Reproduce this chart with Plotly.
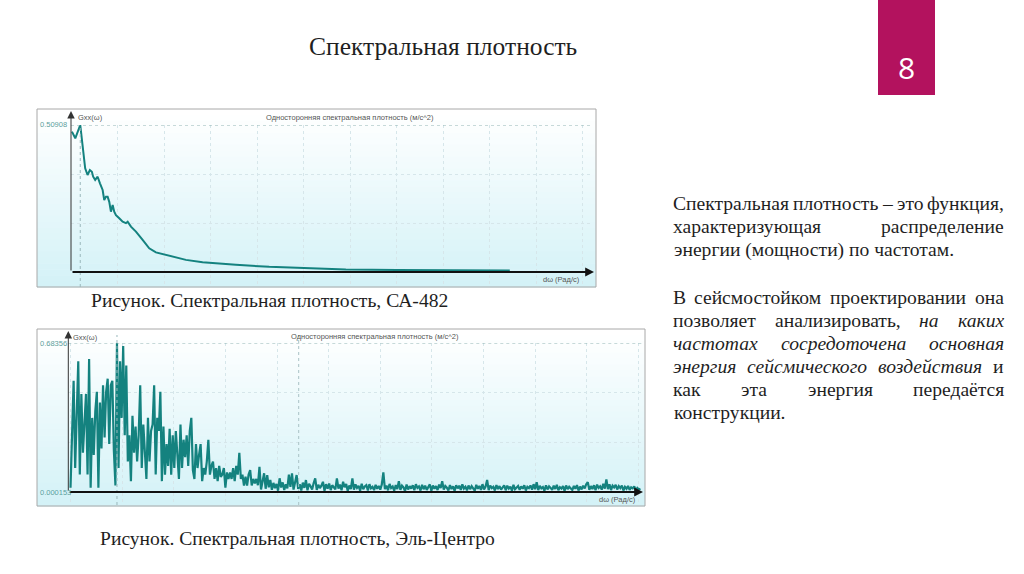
import json
import plotly.graph_objects as go

W, H = 1024, 574


def px(x):
    return x / W


def py(y):
    return 1 - y / H


# ---------------- data ----------------
# Top chart: one-sided spectral density, CA-482
top_omega = [0.1, 0.82, 1.89, 2.4, 2.95, 3.46, 3.96, 4.39, 4.67, 5.1, 5.63, 6.13, 6.71, 7.05,
             7.42, 7.78, 8.13, 8.49, 8.86, 9.2, 9.57, 10.28, 11.01, 11.72, 12.09, 12.8, 13.87,
             15.31, 16.73, 18.17, 21.03, 24.62, 28.21, 31.8, 35.37, 42.54, 49.72, 59.03, 70.0,
             80.0, 94.3]
top_gxx = [0.486, 0.463, 0.50908, 0.440, 0.359, 0.336, 0.353, 0.347, 0.330, 0.319, 0.330, 0.307,
           0.284, 0.249, 0.261, 0.261, 0.243, 0.209, 0.232, 0.209, 0.197, 0.186, 0.174, 0.169,
           0.174, 0.157, 0.140, 0.111, 0.082, 0.068, 0.056, 0.042, 0.034, 0.029, 0.025, 0.018,
           0.013, 0.009, 0.007, 0.006, 0.005]
top_max = 0.50908

# Bottom chart: one-sided spectral density, El Centro (uniform frequency step)
bot_step = 0.3
bot_gxx = [
    0.02, 0.30, 0.51, 0.11, 0.31, 0.60, 0.08, 0.45, 0.18, 0.30,
    0.45, 0.08, 0.61, 0.02, 0.34, 0.17, 0.37, 0.46, 0.02, 0.41,
    0.20, 0.49, 0.25, 0.46, 0.52, 0.22, 0.49, 0.51, 0.19, 0.03,
    0.68356, 0.11, 0.60, 0.34, 0.67, 0.26, 0.58, 0.14, 0.26, 0.05,
    0.35, 0.18, 0.30, 0.14, 0.26, 0.49, 0.11, 0.31, 0.20, 0.06,
    0.34, 0.14, 0.28, 0.31, 0.49, 0.08, 0.34, 0.28, 0.46, 0.05,
    0.30, 0.08, 0.22, 0.12, 0.29, 0.08, 0.26, 0.11, 0.28, 0.15,
    0.06, 0.31, 0.11, 0.24, 0.16, 0.26, 0.12, 0.28, 0.34, 0.10,
    0.06, 0.22, 0.11, 0.17, 0.22, 0.05, 0.11, 0.08, 0.14, 0.24,
    0.08, 0.12, 0.14, 0.06, 0.11, 0.05, 0.12, 0.07, 0.08, 0.11,
    0.02, 0.09, 0.06, 0.09, 0.06, 0.11, 0.05, 0.12, 0.08, 0.18,
    0.06, 0.08, 0.03, 0.07, 0.03, 0.08, 0.10, 0.03, 0.06, 0.04,
    0.06, 0.031, 0.116, 0.012, 0.048, 0.086, 0.015, 0.078, 0.022, 0.055,
    0.010, 0.042, 0.018, 0.037, 0.006, 0.063, 0.021, 0.044, 0.009, 0.035,
    0.017, 0.080, 0.024, 0.086, 0.011, 0.040, 0.078, 0.014, 0.036, 0.007,
    0.043, 0.019, 0.055, 0.008, 0.038, 0.026, 0.012, 0.041, 0.063, 0.010,
    0.033, 0.018, 0.029, 0.047, 0.006, 0.036, 0.015, 0.039, 0.009, 0.031,
    0.020, 0.012, 0.063, 0.016, 0.034, 0.008, 0.047, 0.022, 0.037, 0.005,
    0.030, 0.014, 0.063, 0.011, 0.035, 0.019, 0.028, 0.006, 0.038, 0.013,
    0.026, 0.032, 0.007, 0.036, 0.017, 0.024, 0.009, 0.033, 0.015, 0.028,
    0.011, 0.035, 0.090, 0.013, 0.030, 0.008, 0.037, 0.018, 0.025, 0.006,
    0.032, 0.014, 0.050, 0.010, 0.029, 0.021, 0.005, 0.034, 0.012, 0.027,
    0.016, 0.031, 0.008, 0.036, 0.019, 0.026, 0.007, 0.033, 0.013, 0.029,
    0.010, 0.024, 0.035, 0.006, 0.030, 0.015, 0.027, 0.009, 0.034, 0.018,
    0.050, 0.011, 0.028, 0.020, 0.007, 0.032, 0.014, 0.026, 0.005, 0.031,
    0.017, 0.029, 0.010, 0.035, 0.016, 0.024, 0.008, 0.030, 0.013, 0.027,
    0.019, 0.006, 0.033, 0.015, 0.028, 0.010, 0.036, 0.012, 0.025, 0.055,
    0.009, 0.030, 0.018, 0.024, 0.007, 0.032, 0.014, 0.027, 0.011, 0.022,
    0.031, 0.008, 0.029, 0.016, 0.025, 0.006, 0.033, 0.013, 0.021, 0.028,
    0.010, 0.026, 0.015, 0.031, 0.007, 0.024, 0.018, 0.030, 0.011, 0.036,
    0.013, 0.045, 0.009, 0.028, 0.017, 0.023, 0.006, 0.031, 0.012, 0.026,
    0.019, 0.010, 0.029, 0.014, 0.033, 0.008, 0.022, 0.016, 0.027, 0.005,
    0.030, 0.013, 0.024, 0.018, 0.009, 0.028, 0.015, 0.032, 0.007, 0.025,
    0.012, 0.029, 0.017, 0.036, 0.045, 0.010, 0.027, 0.014, 0.031, 0.008,
    0.034, 0.019, 0.026, 0.011, 0.038, 0.016, 0.058, 0.013, 0.035, 0.009,
    0.029, 0.021, 0.033, 0.012, 0.027, 0.018, 0.030, 0.007, 0.024, 0.015,
    0.028, 0.010, 0.022, 0.017, 0.026, 0.008, 0.019, 0.012, 0.015,
]
bot_omega = [round(i * bot_step, 2) for i in range(len(bot_gxx))]
bot_max = 0.68356
bot_min = 0.000153

# ---------------- styles ----------------
TEAL = "#14827f"
GRID = "#d6e6ea"
LABEL_TEAL = "#5c9f9d"
SERIF = "Liberation Serif"
SANS = "Liberation Sans"
TXT = "#1f1f1f"

fig = go.Figure()
fig.add_trace(go.Scatter(x=top_omega, y=top_gxx, mode="lines",
                         line=dict(color=TEAL, width=2), xaxis="x", yaxis="y",
                         hoverinfo="skip"))
fig.add_trace(go.Scatter(x=bot_omega, y=bot_gxx, mode="lines",
                         line=dict(color=TEAL, width=2.2), xaxis="x2", yaxis="y2",
                         hoverinfo="skip"))

# axis geometry (pixels of the slide)
T_AX_X, T_AX_R, T_TOP, T_ZERO, T_BOT = 71, 593, 125, 272, 287
B_AX_X, B_AX_R, B_TOP, B_ZERO, B_BOT = 68.3, 642, 343, 492, 505

top_lo = -(T_BOT - T_ZERO) / (T_ZERO - T_TOP) * top_max
bot_lo = bot_min - (B_BOT - B_ZERO) / (B_ZERO - B_TOP) * (bot_max - bot_min)

common_x = dict(showgrid=True, gridcolor=GRID, griddash="dot", gridwidth=1,
                showticklabels=False, zeroline=False, showline=False, ticks="",
                tick0=0, dtick=10, fixedrange=True)
common_y = dict(showgrid=True, gridcolor=GRID, griddash="dot", gridwidth=1,
                showticklabels=False, zeroline=False, showline=False, ticks="",
                fixedrange=True)

fig.update_layout(
    xaxis=dict(domain=[px(T_AX_X), px(T_AX_R)], range=[-0.1, 112.2], anchor="y", **common_x),
    yaxis=dict(domain=[py(T_BOT), py(T_TOP)], range=[top_lo, top_max], anchor="x",
               tickvals=[top_max / 3, 2 * top_max / 3], **common_y),
    xaxis2=dict(domain=[px(B_AX_X), px(B_AX_R)], range=[-0.43, 110.7], anchor="y2", **common_x),
    yaxis2=dict(domain=[py(B_BOT), py(B_TOP)], range=[bot_lo, bot_max], anchor="x2",
                tickvals=[bot_min + (bot_max - bot_min) / 3, bot_min + 2 * (bot_max - bot_min) / 3],
                **common_y),
)

shapes = []


def gradient_frame(x0, y0, x1, y1, n=30):
    c0 = (255, 255, 255)
    c1 = (212, 242, 247)
    for k in range(n):
        t = k / (n - 1)
        c = tuple(int(round(c0[j] + (c1[j] - c0[j]) * t)) for j in range(3))
        ya = y0 + (y1 - y0) * k / n
        yb = y0 + (y1 - y0) * (k + 1) / n
        shapes.append(dict(type="rect", xref="paper", yref="paper",
                           x0=px(x0), x1=px(x1), y0=py(ya), y1=py(yb + 0.6),
                           fillcolor="rgb(%d,%d,%d)" % c, line=dict(width=0), layer="below"))
    shapes.append(dict(type="rect", xref="paper", yref="paper",
                       x0=px(x0), x1=px(x1), y0=py(y0), y1=py(y1),
                       line=dict(color="#a8a8a8", width=1), fillcolor="rgba(0,0,0,0)",
                       layer="below"))


gradient_frame(37, 109, 596, 287)
gradient_frame(37, 329, 645, 506)

# dotted reference lines at the maximum
shapes.append(dict(type="line", xref="paper", yref="y", x0=px(T_AX_X), x1=px(T_AX_R),
                   y0=top_max, y1=top_max, line=dict(color="#8fb3b3", width=1, dash="dot")))
shapes.append(dict(type="line", xref="paper", yref="y2", x0=px(B_AX_X), x1=px(B_AX_R),
                   y0=bot_max, y1=bot_max, line=dict(color="#8fb3b3", width=1, dash="dot")))

# cursor lines at the peaks
top_peak = top_omega[top_gxx.index(max(top_gxx))]
bot_peak = bot_omega[bot_gxx.index(max(bot_gxx))]
shapes.append(dict(type="line", xref="x", yref="paper", x0=top_peak, x1=top_peak,
                   y0=py(T_BOT), y1=py(T_TOP), line=dict(color="#9ab8bc", width=1, dash="dot")))
shapes.append(dict(type="line", xref="x2", yref="paper", x0=bot_peak, x1=bot_peak,
                   y0=py(B_BOT), y1=py(B_TOP - 8), line=dict(color="#9ab8bc", width=1, dash="dot")))
shapes.append(dict(type="line", xref="x2", yref="paper", x0=44.2, x1=44.2,
                   y0=py(B_BOT), y1=py(B_TOP - 8), line=dict(color="#a9c2c6", width=1, dash="dot")))

# page number box
shapes.append(dict(type="rect", xref="paper", yref="paper", x0=px(878), x1=px(935),
                   y0=py(0), y1=py(95), fillcolor="#b3125e", line=dict(width=0)))

fig.update_layout(shapes=shapes)

ann = []


def arrow(x, y, ax, ay, width, size, xref="paper", yref="paper", color="#111"):
    ann.append(dict(x=x, y=y, xref=xref, yref=yref, ax=ax, ay=ay, axref="pixel", ayref="pixel",
                    text="", showarrow=True, arrowhead=2, arrowsize=size, arrowwidth=width,
                    arrowcolor=color, standoff=0, startstandoff=0))


# axes with arrow heads
arrow(px(T_AX_R + 1), 0, -(T_AX_R + 1 - T_AX_X), 0, 2.2, 0.8, yref="y")
arrow(px(T_AX_X), py(111), 0, T_ZERO - 111, 1, 1.5, color="#333")
arrow(px(B_AX_R + 1), bot_min, -(B_AX_R + 1 - B_AX_X), 0, 2.2, 0.8, yref="y2")
arrow(px(B_AX_X), py(331), 0, B_ZERO - 331, 1, 1.5, color="#333")


def text(x, y, s, size, color=TXT, family=SERIF, xanchor="center", italic=False):
    ann.append(dict(x=px(x), y=py(y), xref="paper", yref="paper", text=s, showarrow=False,
                    xanchor=xanchor, yanchor="middle",
                    font=dict(family=family, size=size, color=color,
                              style="italic" if italic else "normal")))
    return len(ann) - 1


small = 7.5
# top chart labels
text(76, 117, "Gxx(ω)", small, "#555", SANS, "left")
text(350, 117, "Односторонняя спектральная плотность (м/с^2)", small, "#555", SANS)
text(38, 125, "0.50908", small, LABEL_TEAL, SANS, "left")
text(582, 279, "dω (Рад/с)", small, "#555", SANS, "right")
# bottom chart labels
text(71, 337, "Gxx(ω)", small, "#555", SANS, "left")
text(375, 336, "Односторонняя спектральная плотность (м/с^2)", small, "#555", SANS)
text(38, 343, "0.68356", small, LABEL_TEAL, SANS, "left")
text(38, 492, "0.000153", small, LABEL_TEAL, SANS, "left")
text(638, 499, "dω (Рад/с)", small, "#555", SANS, "right")

# slide texts
text(443, 47, "Спектральная плотность", 25.5)
text(906, 67, "8", 30, "white", "Open Sans")
text(269, 300, "Рисунок. Спектральная плотность, СА-482", 19.6)
text(297, 538, "Рисунок. Спектральная плотность, Эль-Центро", 19.6)

fs = 19.6
L, R = 672, 1003
groups = []


def justified(y, words):
    """words: list of (text, italic). Rough initial layout; refined in the browser."""
    est = [0.47 * fs * len(w) for w, _ in words]
    gap = (R - L - sum(est)) / (len(words) - 1)
    x = L
    idx = []
    for (w, it), e in zip(words, est):
        idx.append(text(x, y, w, fs, xanchor="left", italic=it))
        x += e + gap
    groups.append(idx)


justified(203, [("Спектральная", False), ("плотность", False), ("–", False),
                ("это", False), ("функция,", False)])
justified(227, [("характеризующая", False), ("распределение", False)])
text(L, 250, "энергии (мощности) по частотам.", fs, xanchor="left")

justified(297, [("В", False), ("сейсмостойком", False), ("проектировании", False),
                ("она", False)])
justified(320, [("позволяет", False), ("анализировать,", False), ("на", True),
                ("каких", True)])
justified(343, [("частотах", True), ("сосредоточена", True), ("основная", True)])
justified(366, [("энергия", True), ("сейсмического", True), ("воздействия", True),
                ("и", False)])
justified(389, [("как", False), ("эта", False), ("энергия", False), ("передаётся", False)])
text(L, 412, "конструкции.", fs, xanchor="left")

fig.update_layout(annotations=ann, width=W, height=H,
                  margin=dict(l=0, r=0, t=0, b=0),
                  paper_bgcolor="white", plot_bgcolor="rgba(0,0,0,0)",
                  showlegend=False)

post = """
document.body.style.margin = '0';
document.body.style.padding = '0';
document.documentElement.style.overflow = 'hidden';
(function() {
  var gd = document.getElementById('{plot_id}');
  var groups = GROUPS;
  var L = LEFT, R = RIGHT, W = WIDTH;
  try {
    var upd = {};
    groups.forEach(function(g) {
      var ws = g.map(function(k) {
        var el = gd.querySelector('.annotation[data-index="' + k + '"] .annotation-text');
        return el ? el.getBBox().width : null;
      });
      if (ws.some(function(w) { return w === null || !(w > 0); })) return;
      var tot = ws.reduce(function(a, b) { return a + b; }, 0);
      var gap = (R - L - tot) / (g.length - 1);
      var x = L;
      g.forEach(function(k, i) {
        upd['annotations[' + k + '].x'] = (x - 1) / W;
        x += ws[i] + gap;
      });
    });
    Plotly.relayout(gd, upd);
  } catch (e) {}
})();
"""
post = (post.replace("GROUPS", json.dumps(groups)).replace("LEFT", str(L))
        .replace("RIGHT", str(R)).replace("WIDTH", str(W)))

fig.write_html("out.html", config={"displayModeBar": False}, post_script=post)
